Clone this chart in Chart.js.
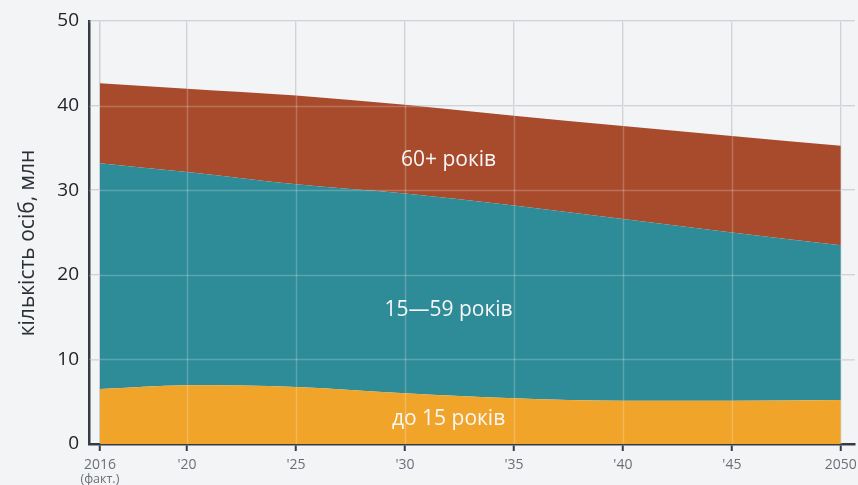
<!DOCTYPE html>
<html>
<head>
<meta charset="utf-8">
<script src="https://cdn.jsdelivr.net/npm/chart.js@4.4.1/dist/chart.umd.min.js"></script>
<style>
html, body { margin: 0; padding: 0; background: #f3f4f6; }
#wrap { width: 858px; height: 485px; }
</style>
</head>
<body>
<div id="wrap"><canvas id="popChart" width="858" height="485"></canvas></div>
<script>
// population of Ukraine by age group, mln
const years = [2016, 2020, 2025, 2030, 2035, 2040, 2045, 2050];
const under15 = [6.5, 6.95, 6.75, 6.0, 5.4, 5.1, 5.1, 5.2];
const age15to59 = [26.7, 25.2, 23.95, 23.6, 22.8, 21.5, 19.9, 18.3];
const age60plus = [9.45, 9.85, 10.5, 10.5, 10.6, 11.0, 11.4, 11.75];
const seriesNames = ["до 15 років", "15—59 років", "60+ років"];
const xTickYears = [2016, 2020, 2025, 2030, 2035, 2040, 2045, 2050];
const yTickValues = [0, 10, 20, 30, 40, 50];
const yTitle = "кількість осіб, млн";
const factNote = "(факт.)";

const colors = ["#f0a52a", "#2e8b98", "#a84b2d"];

function toPoints(vals) {
    return years.map((y, i) => ({ x: y, y: vals[i] }));
}

function tickText(v) {
    if (v === 2016 || v === 2050) return String(v);
    return "'" + String(v).slice(2);
}

// lighter grid lines painted over the areas + in-area labels
const overlay = {
    id: "overlay",
    afterDatasetsDraw(chart) {
        const { ctx, chartArea, scales } = chart;
        const x = scales.x, y = scales.y;
        ctx.save();
        ctx.strokeStyle = "rgba(255,255,255,0.22)";
        ctx.lineWidth = 1.5;
        xTickYears.slice(1).forEach(v => {
            const px = Math.round(x.getPixelForValue(v)) + 0.5;
            ctx.beginPath(); ctx.moveTo(px, chartArea.top); ctx.lineTo(px, chartArea.bottom); ctx.stroke();
        });
        yTickValues.slice(1).forEach(v => {
            const py = Math.round(y.getPixelForValue(v)) + 0.5;
            ctx.beginPath(); ctx.moveTo(chartArea.left, py); ctx.lineTo(chartArea.right, py); ctx.stroke();
        });

        ctx.fillStyle = "#f7f7f7";
        ctx.font = "21px 'Open Sans'";
        ctx.textAlign = "center";
        ctx.textBaseline = "middle";
        const spots = [[2032, 2.9], [2032, 15.8], [2032, 33.6]];
        seriesNames.forEach((name, i) => {
            ctx.fillText(name, x.getPixelForValue(spots[i][0]), y.getPixelForValue(spots[i][1]));
        });

        ctx.fillStyle = "#6b6f7a";
        ctx.font = "12.5px 'Open Sans'";
        ctx.textBaseline = "top";
        ctx.fillText(factNote, x.getPixelForValue(2016), chartArea.bottom + 29);

        ctx.fillStyle = "#2b2f36";
        ctx.font = "21px 'Open Sans'";
        ctx.translate(28, 243);
        ctx.rotate(-Math.PI / 2);
        ctx.textBaseline = "middle";
        ctx.fillText(yTitle, 0, 0);
        ctx.restore();
    }
};

new Chart(document.getElementById("popChart"), {
    type: "line",
    data: {
        datasets: [under15, age15to59, age60plus].map((vals, i) => ({
            label: seriesNames[i],
            data: toPoints(vals),
            backgroundColor: colors[i],
            borderColor: colors[i],
            borderWidth: 0,
            pointRadius: 0,
            fill: i === 0 ? "origin" : "-1",
            cubicInterpolationMode: "monotone"
        }))
    },
    options: {
        responsive: false,
        animation: false,
        layout: { padding: { top: 21, right: 3, left: 0, bottom: 0 } },
        plugins: { legend: { display: false }, tooltip: { enabled: false } },
        scales: {
            x: {
                type: "linear",
                min: 2015.5,
                max: 2050.65,
                afterBuildTicks: s => { s.ticks = xTickYears.map(v => ({ value: v })); },
                afterFit: s => { s.height = 41; s.paddingLeft = 0; s.paddingRight = 0; },
                grid: { color: "#cdd0d6", lineWidth: 1.5, tickColor: "#343a46", tickLength: 7, tickWidth: 2 },
                border: { color: "#343a46", width: 2.5 },
                ticks: {
                    color: "#6b6f7a",
                    font: { family: "'Open Sans'", size: 14 },
                    padding: 6,
                    maxRotation: 0,
                    callback: v => tickText(v)
                }
            },
            y: {
                stacked: true,
                min: 0,
                max: 50,
                afterBuildTicks: s => { s.ticks = yTickValues.map(v => ({ value: v })); },
                afterFit: s => { s.width = 89; s.paddingTop = 0; s.paddingBottom = 0; },
                grid: { color: "#cdd0d6", lineWidth: 1.5, drawTicks: false },
                border: { color: "#343a46", width: 2.5 },
                ticks: {
                    color: "#222428",
                    font: { family: "'Open Sans'", size: 19 },
                    padding: 10
                }
            }
        }
    },
    plugins: [overlay]
});
</script>
</body>
</html>
